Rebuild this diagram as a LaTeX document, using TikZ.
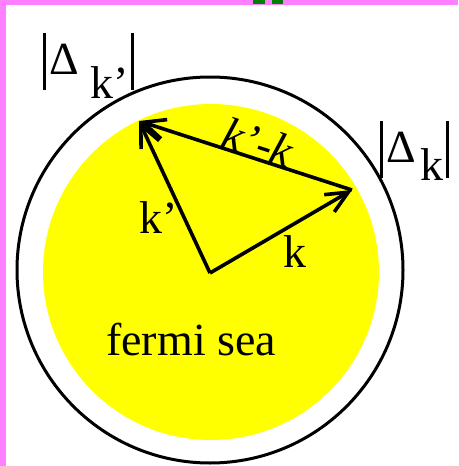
\documentclass[tikz,border=0pt]{standalone}
\usepackage{fontspec}
\setmainfont{Liberation Serif}
\usetikzlibrary{arrows.meta}
\definecolor{frame}{RGB}{255,128,255}
\definecolor{seacol}{RGB}{255,255,0}
\newcommand{\vb}{\hspace{2pt}\rule[-16pt]{3.2pt}{57pt}\hspace{3pt}}

\begin{document}
\begin{tikzpicture}[x=1pt,y=-1pt,
    vec/.style={line width=3.6pt,-{Straight Barb[length=22pt 0,width=20pt 0]}},
    lbl/.style={inner sep=0pt,font=\fontsize{46}{50}\selectfont}]
  \useasboundingbox (0,0) rectangle (458,466);
  \fill[white] (0,0) rectangle (458,466);
  % frame of the slide
  \fill[frame] (0,0) rectangle (6,466);
  \fill[frame] (0,0) rectangle (458,5);
  \fill[green!50!black] (253,0) rectangle (265,4);
  \fill[green!50!black] (272,0) rectangle (283,4);
  % fermi sea and gap
  \fill[seacol] (211,272) circle (168);
  \draw[line width=3pt] (210,270) circle (193);
  \coordinate (o) at (210,273);
  \coordinate (kt) at (352,190);
  \coordinate (kpt) at (139,121);
  \draw[vec] (o) -- (kt);
  \draw[vec] (o) -- (kpt);
  \draw[vec] (kt) -- (kpt);
  \node[lbl,anchor=base west] (lk) at (283,267) {k};
  \node[lbl,anchor=base west] (lkp) at (139,233) {k’};
  \node[lbl,rotate=-18] (lkk) at (258,142) {\itshape k’-k};
  \node[lbl,anchor=base west] (sea) at (106,355) {fermi sea};
  \node[lbl,anchor=base west] (dkp) at (41,74)
    {\vb Δ\hspace{0.25em}\raisebox{-24pt}{k’}\vb};
  \node[lbl,anchor=base west] (dk) at (378,162)
    {\vb Δ\hspace{0.1em}\raisebox{-18pt}{k}\vb};
\end{tikzpicture}
\end{document}
